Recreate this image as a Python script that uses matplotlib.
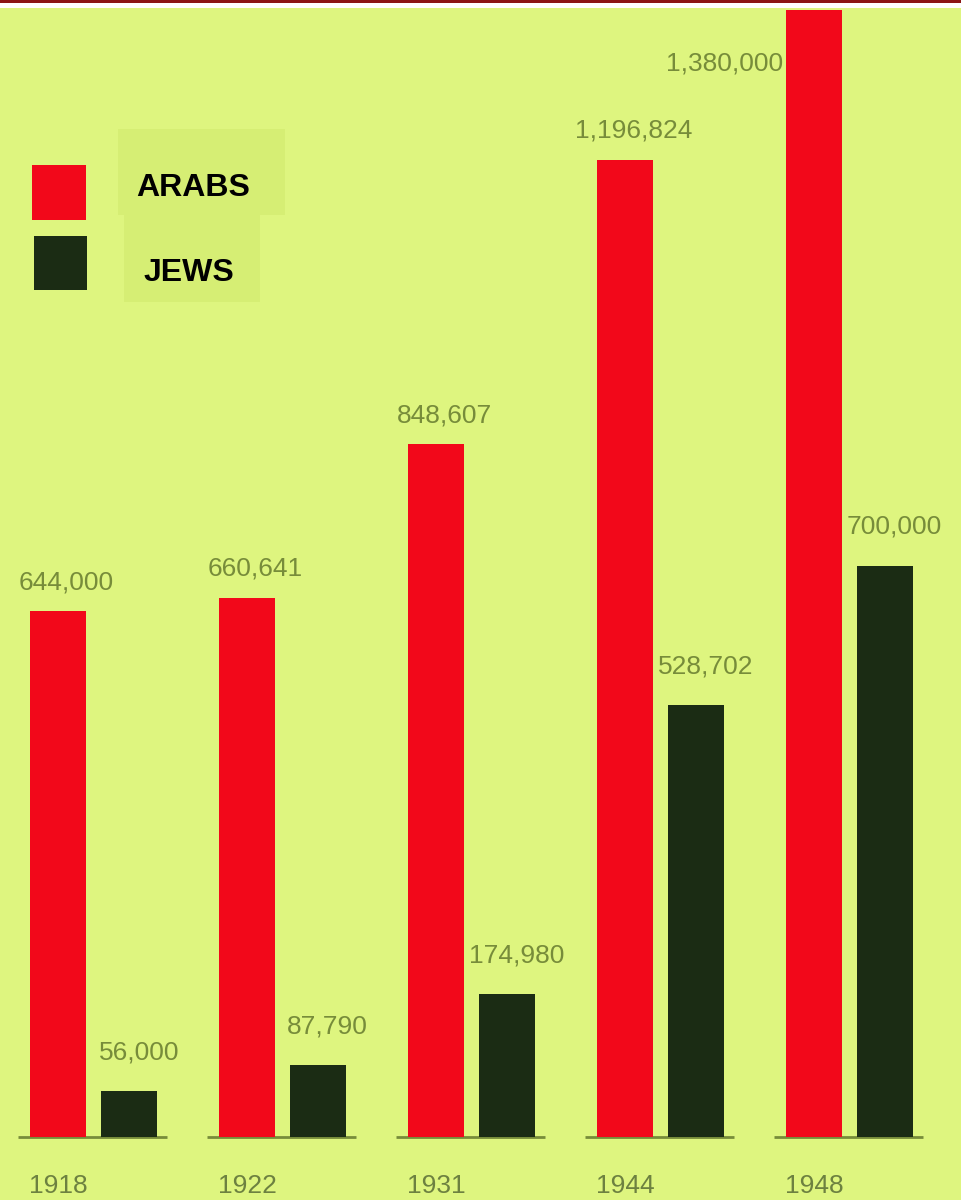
import matplotlib
matplotlib.use('Agg')
import matplotlib.pyplot as plt
from matplotlib.patches import Rectangle

# ─── Data ─────────────────────────────────────────
YEARS = ["1918", "1922", "1931", "1944", "1948"]
ARABS = [644000, 660641, 848607, 1196824, 1380000]
JEWS  = [56000, 87790, 174980, 528702, 700000]
SERIES_NAMES = ["ARABS", "JEWS"]
# ──────────────────────────────────────────────────

BG     = '#def57f'
BOX    = '#d6ee74'
RED    = '#f2081a'
DARK   = '#1b2c14'
OLIVE  = '#778c3a'
YEARC  = '#6d8140'
BORDER = '#8b1616'

W, H = 961, 1200
fig = plt.figure(figsize=(W/100, H/100), dpi=100, facecolor=BG)
ax = fig.add_axes([0, 0, 1, 1])
ax.set_facecolor(BG)
ax.axis('off')

# x in group units, y in persons (≈1225 persons per pixel)
ax.set_xlim(-0.307, 4.778)
ax.set_ylim(-77200, 1392800)

off   = 0.376
width = 0.30
xs    = list(range(len(YEARS)))

ax.bar(xs, ARABS, width=width, color=RED, edgecolor='none', zorder=3)
ax.bar([x + off for x in xs], JEWS, width=width, color=DARK, edgecolor='none', zorder=3)

# baseline segments under each pair
for x in xs:
    ax.plot([x - width/2 - 0.06, x + off + width/2 + 0.05], [0, 0],
            color=OLIVE, linewidth=2, zorder=2, solid_capstyle='butt')

lab_kw = dict(color=OLIVE, fontsize=19, family='Liberation Sans',
              textcoords='offset points', va='center')
top = max(ARABS)
for x, v in zip(xs, ARABS):
    if v == top:
        ax.annotate(f"{v:,}", (x - width/2, v), xytext=(-2, -38), ha='right', **lab_kw)
    else:
        ax.annotate(f"{v:,}", (x, v), xytext=(6, 21), ha='center', **lab_kw)
for x, v in zip(xs, JEWS):
    ax.annotate(f"{v:,}", (x + off, v), xytext=(7, 28), ha='center', **lab_kw)

for x, yr in zip(xs, YEARS):
    ax.annotate(yr, (x, 0), xytext=(0, -35), textcoords='offset points',
                ha='center', va='center', color=YEARC, fontsize=19,
                family='Liberation Sans')

# legend, drawn by hand
def fx(px): return px / W
def fy(py): return 1 - py / H

ax.add_patch(Rectangle((fx(118), fy(215)), fx(167), 86/H, transform=ax.transAxes,
                       facecolor=BOX, edgecolor='none', zorder=1))
ax.add_patch(Rectangle((fx(124), fy(302)), fx(136), 87/H, transform=ax.transAxes,
                       facecolor=BOX, edgecolor='none', zorder=1))
ax.add_patch(Rectangle((fx(32), fy(220)), fx(54), 55/H, transform=ax.transAxes,
                       facecolor=RED, edgecolor='none', zorder=3))
ax.add_patch(Rectangle((fx(34), fy(290)), fx(53), 54/H, transform=ax.transAxes,
                       facecolor=DARK, edgecolor='none', zorder=3))
ax.text(fx(193), fy(188), SERIES_NAMES[0], transform=ax.transAxes, ha='center', va='center',
        fontsize=23, fontweight='bold', family='Liberation Sans', color='black', zorder=4)
ax.text(fx(189), fy(273), SERIES_NAMES[1], transform=ax.transAxes, ha='center', va='center',
        fontsize=23, fontweight='bold', family='Liberation Sans', color='black', zorder=4)

# top border
fig.patches.append(Rectangle((0, 1 - 8/H), 1, 5/H, transform=fig.transFigure,
                             facecolor='white', edgecolor='none', zorder=10))
fig.patches.append(Rectangle((0, 1 - 3/H), 1, 3/H, transform=fig.transFigure,
                             facecolor=BORDER, edgecolor='none', zorder=10))

fig.savefig("out.png", dpi=100, facecolor=BG)
